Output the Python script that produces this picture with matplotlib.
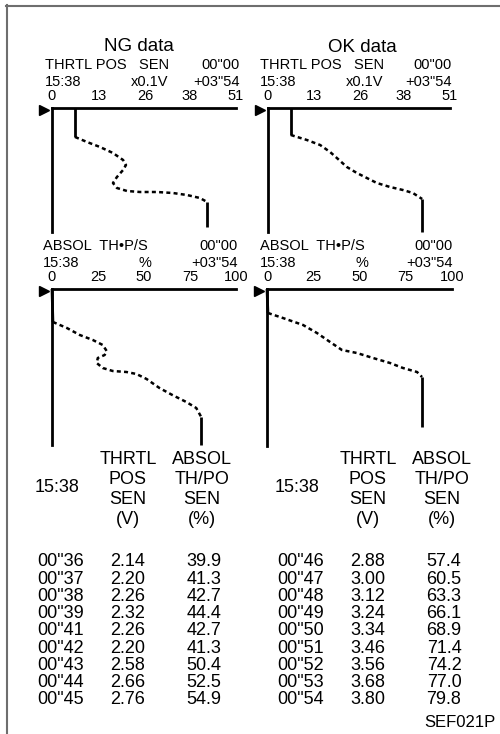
import matplotlib
matplotlib.use("Agg")
import matplotlib.pyplot as plt
from matplotlib.lines import Line2D

plt.rcParams['font.family'] = ['Liberation Sans', 'DejaVu Sans']

W, H = 500, 734

# traces: value on the scale, time offset below the scale line (samples)
ng_thr_val = [6.4, 6.4, 9.7, 13.3, 16.9, 19.7, 20.5, 19.7, 18.0, 16.9, 18.0, 20.8, 24.4, 29.1, 33.5, 37.4, 41.0, 43.0, 43.0]
ng_thr_t = [0, 29, 34, 39, 45, 52, 57, 62, 69, 75, 80, 83, 84, 84, 85, 87, 90, 94, 119]

ok_thr_val = [6.4, 6.4, 10.9, 14.6, 17.4, 19.3, 22.1, 24.9, 27.7, 30.5, 34.2, 37.8, 40.6, 43.2, 43.2]
ok_thr_t = [0, 27, 32, 37, 44, 50, 59, 65, 70, 75, 79, 82, 85, 91, 124]

ng_abs_val = [0, 0.5, 8.1, 15.1, 22.2, 27.6, 29.7, 28.6, 24.9, 24.3, 27.6, 33.0, 40.5, 45.9, 51.4, 58.4, 65.4, 73.0, 78.4, 81.1, 81.1]
ng_abs_t = [0, 33, 39, 46, 51, 56, 62, 66, 69, 74, 79, 82, 83, 85, 90, 99, 106, 113, 119, 128, 156]

ok_abs_val = [0, 0.5, 8.6, 19.5, 27.0, 34.1, 40.5, 48.6, 57.3, 66.5, 73.5, 81.1, 83.8, 83.8]
ok_abs_t = [0, 24, 29, 36, 44, 53, 61, 64, 69, 74, 79, 83, 88, 138]

thr_ticks = [0, 13, 26, 38, 51]
abs_ticks = [0, 25, 50, 75, 100]

# table values
ng_times = ['00"36', '00"37', '00"38', '00"39', '00"41', '00"42', '00"43', '00"44', '00"45']
ng_thr_tab = [2.14, 2.20, 2.26, 2.32, 2.26, 2.20, 2.58, 2.66, 2.76]
ng_abs_tab = [39.9, 41.3, 42.7, 44.4, 42.7, 41.3, 50.4, 52.5, 54.9]
ok_times = ['00"46', '00"47', '00"48', '00"49', '00"50', '00"51', '00"52', '00"53', '00"54']
ok_thr_tab = [2.88, 3.00, 3.12, 3.24, 3.34, 3.46, 3.56, 3.68, 3.80]
ok_abs_tab = [57.4, 60.5, 63.3, 66.1, 68.9, 71.4, 74.2, 77.0, 79.8]


def fx(x):
    return x / W


def fy(y):
    return 1 - y / H


def txt(x, y, s, ha='left', size=10.5):
    # y is the middle of the capitals, put the baseline below it
    base = y + 0.358 * size * 100 / 72
    fig.text(fx(x), fy(base), s, ha=ha, va='baseline', fontsize=size, color='black')


def chart(x0, x1, y0, y1, vmax, ticks, val, t):
    ax = fig.add_axes([fx(x0), fy(y1), fx(x1) - fx(x0), fy(y0) - fy(y1)])
    ax.set_xlim(0, vmax)
    ax.set_ylim(y1 - y0, 0)
    ax.patch.set_alpha(0)
    for s in ['right', 'bottom']:
        ax.spines[s].set_visible(False)
    for s in ['top', 'left']:
        ax.spines[s].set_linewidth(2.0)
    ax.xaxis.tick_top()
    ax.set_xticks(ticks)
    ax.set_xticklabels([str(v) for v in ticks])
    ax.set_xticks(ticks[1:], minor=True)
    ax.tick_params(axis='x', which='major', length=0, pad=3.5, labelsize=10.5)
    ax.tick_params(axis='x', which='minor', length=6, width=1.8, top=True, bottom=False)
    ax.set_yticks([])
    kw = dict(color='black', solid_capstyle='butt', clip_on=False)
    ax.plot(val[:2], t[:2], lw=2.0, **kw)
    ax.plot(val[1:-1], t[1:-1], lw=1.8, ls=(0, (1.6, 1.3)), **kw)
    ax.plot(val[-2:], t[-2:], lw=2.0, **kw)
    # start marker
    ax.plot([-8 / (x1 - x0) * vmax], [2], marker='>', ms=7, color='black', clip_on=False)
    return ax


fig = plt.figure(figsize=(W / 100, H / 100), dpi=100)

# frame
fig.add_artist(Line2D([fx(6), fx(500)], [fy(5.5), fy(5.5)], color='#6e6e6e', lw=1.5))
fig.add_artist(Line2D([fx(6.5), fx(6.5)], [fy(5), fy(734)], color='#6e6e6e', lw=1.5))

chart(52, 236, 108, 232, 51, thr_ticks, ng_thr_val, ng_thr_t)
chart(268, 450, 108, 232, 51, thr_ticks, ok_thr_val, ok_thr_t)
chart(52, 236, 289, 445, 100, abs_ticks, ng_abs_val, ng_abs_t)
chart(267, 452, 289, 446, 100, abs_ticks, ok_abs_val, ok_abs_t)

txt(139, 44, 'NG data', ha='center', size=13.5)
txt(362, 45, 'OK data', ha='center', size=13.5)

for dx, right, unit_r in [(0, 240, 168), (215, 452, 383)]:
    txt(45 + dx, 64, 'THRTL POS   SEN')
    txt(right, 64, '00"00', ha='right')
    txt(45 + dx, 81, '15:38')
    txt(unit_r, 81, 'x0.1V', ha='right')
    txt(right, 81, '+03"54', ha='right')

for dx, right, unit_c in [(0, 238, 145), (217, 453, 362)]:
    txt(43 + dx, 245, 'ABSOL  TH\u2022P/S')
    txt(right, 245, '00"00', ha='right')
    txt(43 + dx, 262, '15:38')
    txt(unit_c, 262, '%', ha='center')
    txt(right, 262, '+03"54', ha='right')

# tables
head_y = [458, 478, 498, 518]
for dx, times, thr, ab in [(0, ng_times, ng_thr_tab, ng_abs_tab), (240, ok_times, ok_thr_tab, ok_abs_tab)]:
    txt(35 + dx, 486, '15:38', size=13)
    for y, s in zip(head_y, ['THRTL', 'POS', 'SEN', '(V)']):
        txt(128 + dx, y, s, ha='center', size=13)
    for y, s in zip(head_y, ['ABSOL', 'TH/PO', 'SEN', '(%)']):
        txt(202 + dx, y, s, ha='center', size=13)
    for i in range(len(times)):
        y = 560 + 17.25 * i
        txt(37 + dx, y, times[i], size=13)
        txt(128 + dx, y, '%.2f' % thr[i], ha='center', size=13)
        txt(204 + dx, y, '%.1f' % ab[i], ha='center', size=13)

txt(496, 721, 'SEF021P', ha='right', size=12)

fig.savefig('out.png', dpi=100)
